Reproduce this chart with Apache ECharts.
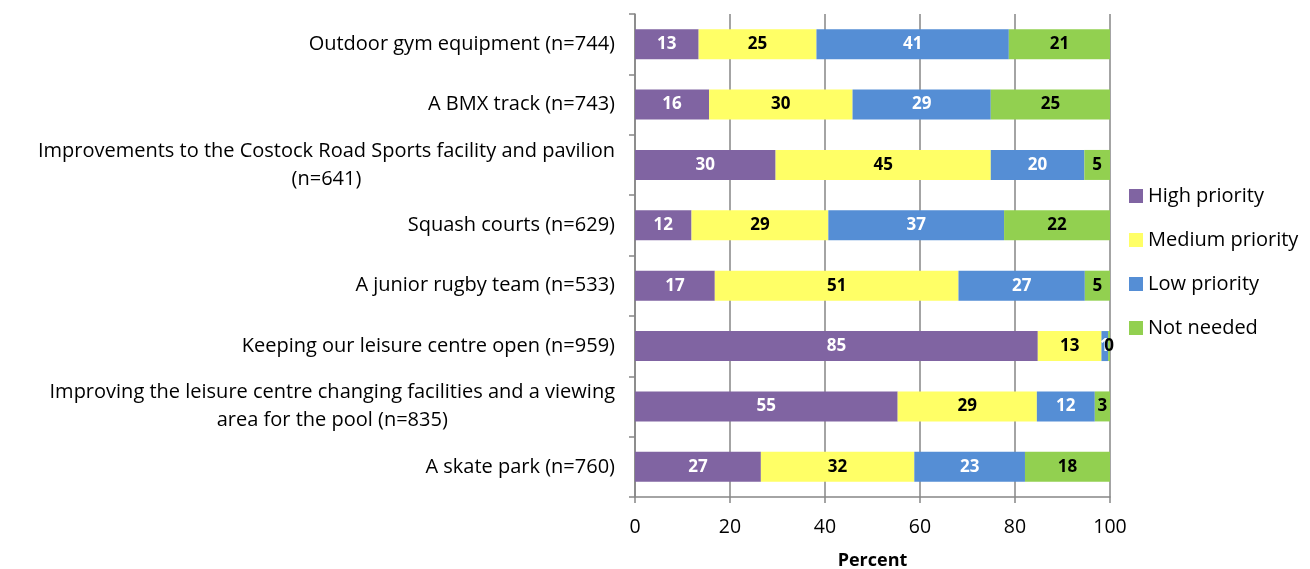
<!DOCTYPE html>
<html>
<head>
<meta charset="utf-8">
<script src="https://cdn.jsdelivr.net/npm/echarts@6/dist/echarts.min.js"></script>
<style>
	html, body { margin: 0; padding: 0; background: #fff; }
	#chart { width: 1310px; height: 569px; }
</style>
</head>
<body>
<div id="chart"></div>
<script>
// categories, top to bottom
var categories = [
	'Outdoor gym equipment (n=744)',
	'A BMX track (n=743)',
	'Improvements to the Costock Road Sports facility and pavilion\n(n=641)',
	'Squash courts (n=629)',
	'A junior rugby team (n=533)',
	'Keeping our leisure centre open (n=959)',
	'Improving the leisure centre changing facilities and a viewing\narea for the pool (n=835)',
	'A skate park (n=760)'
];
var seriesNames = ['High priority', 'Medium priority', 'Low priority', 'Not needed'];
var highPriority   = [13.4, 15.6, 29.6, 11.9, 16.8, 84.8, 55.3, 26.5];
var mediumPriority = [24.8, 30.2, 45.3, 28.8, 51.3, 13.4, 29.3, 32.3];
var lowPriority    = [40.5, 29.1, 19.7, 37.0, 26.6, 1.4, 12.2, 23.3];
var notNeeded      = [21.3, 25.1, 5.4, 22.3, 5.3, 0.4, 3.2, 17.9];
var xTicks = [0, 20, 40, 60, 80, 100];

var colors = ['#8064A2', '#FFFF66', '#558ED5', '#92D050'];
var labelColors = ['#fff', '#000', '#fff', '#000'];
var allData = [highPriority, mediumPriority, lowPriority, notNeeded];
var font = '"Open Sans", sans-serif';

var chart = echarts.init(document.getElementById('chart'));

var series = [];
for (var i = 0; i < seriesNames.length; i++) {
	series.push({
		name: seriesNames[i],
		type: 'bar',
		stack: 'total',
		barWidth: 30,
		data: allData[i],
		itemStyle: { color: colors[i] },
		label: {
			show: true,
			position: 'inside',
			color: labelColors[i],
			fontFamily: font,
			fontWeight: 'bold',
			fontSize: 17,
			formatter: function(p) { return Math.round(p.value); }
		}
	});
}

var option = {
	animation: false,
	grid: {
		left: 635,
		right: 200,
		top: 14,
		bottom: 72,
		outerBoundsMode: 'none'
	},
	legend: {
		orient: 'vertical',
		left: 1129,
		top: 186,
		padding: 0,
		itemWidth: 14,
		itemHeight: 14,
		itemGap: 24,
		icon: 'rect',
		data: seriesNames,
		textStyle: { fontFamily: font, fontSize: 20, color: '#000', lineHeight: 20 }
	},
	xAxis: {
		type: 'value',
		min: xTicks[0],
		max: xTicks[xTicks.length - 1],
		interval: 20,
		name: 'Percent',
		nameLocation: 'middle',
		nameGap: 55,
		nameTextStyle: { fontFamily: font, fontWeight: 'bold', fontSize: 18, color: '#000' },
		axisLine: { show: true, lineStyle: { color: '#868686', width: 1.5 } },
		axisTick: { show: true, length: 6, lineStyle: { color: '#868686', width: 1.5 } },
		axisLabel: { fontFamily: font, fontSize: 19.5, color: '#000', margin: 20 },
		splitLine: { show: true, lineStyle: { color: '#868686', width: 1.5 } }
	},
	yAxis: {
		type: 'category',
		inverse: true,
		data: categories,
		axisLine: { show: true, lineStyle: { color: '#868686', width: 1.5 } },
		axisTick: { show: true, length: 6, inside: false, lineStyle: { color: '#868686', width: 1.5 } },
		axisLabel: {
			fontFamily: font,
			fontSize: 20,
			color: '#000',
			margin: 20,
			lineHeight: 28,
			formatter: function(v) {
				return v.split('\n').map(function(s) { return '{c|' + s + '}'; }).join('\n');
			},
			rich: {
				c: { align: 'center', fontFamily: font, fontSize: 20, color: '#000', lineHeight: 28 }
			}
		}
	},
	series: series
};

chart.setOption(option);
</script>
</body>
</html>
